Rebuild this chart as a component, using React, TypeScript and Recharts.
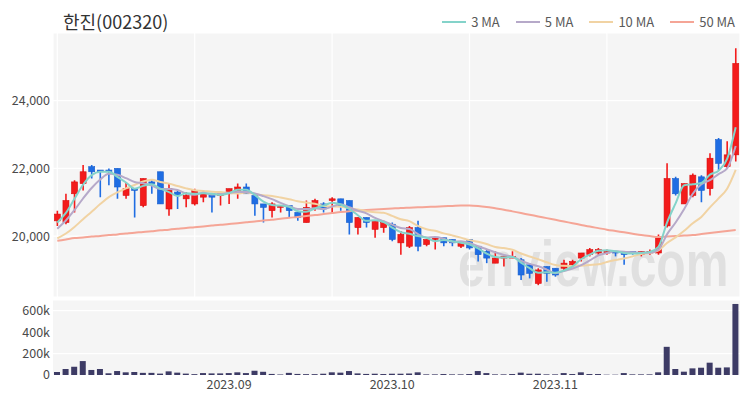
import React from 'react';
import { ComposedChart, Bar, Line, XAxis, YAxis, CartesianGrid } from 'recharts';

const FONT = '"Noto Sans CJK KR", "Noto Sans", sans-serif';

const dates = [
  '2023-08-03','2023-08-04','2023-08-07','2023-08-08','2023-08-09','2023-08-10','2023-08-11','2023-08-14','2023-08-16','2023-08-17',
  '2023-08-18','2023-08-21','2023-08-22','2023-08-23','2023-08-24','2023-08-25','2023-08-28','2023-08-29','2023-08-30','2023-08-31',
  '2023-09-01','2023-09-04','2023-09-05','2023-09-06','2023-09-07','2023-09-08','2023-09-11','2023-09-12','2023-09-13','2023-09-14',
  '2023-09-15','2023-09-18','2023-09-19','2023-09-20','2023-09-21','2023-09-22','2023-09-25','2023-09-26','2023-09-27','2023-10-04',
  '2023-10-05','2023-10-06','2023-10-10','2023-10-11','2023-10-12','2023-10-13','2023-10-16','2023-10-17','2023-10-18','2023-10-19',
  '2023-10-20','2023-10-23','2023-10-24','2023-10-25','2023-10-26','2023-10-27','2023-10-30','2023-10-31','2023-11-01','2023-11-02',
  '2023-11-03','2023-11-06','2023-11-07','2023-11-08','2023-11-09','2023-11-10','2023-11-13','2023-11-14','2023-11-15','2023-11-16',
  '2023-11-17','2023-11-20','2023-11-21','2023-11-22','2023-11-23','2023-11-24','2023-11-27','2023-11-28','2023-11-29','2023-11-30',
];

const opens = [
  20450, 20400, 21250, 21550, 22050, 21950, 21950, 22000, 21200, 21400,
  20900, 21600, 21900, 20800, 21300, 21100, 20950, 21150, 21250, 21200,
  21250, 21300, 21450, 21200, 20950, 20750, 20850, 20900, 20700, 20400,
  20850, 20950, 21050, 21100, 21050, 20250, 20550, 20200, 20250, 20350,
  19800, 19700, 20250, 19750, 19900, 19950, 19900, 19700, 19900, 19700,
  19550, 19200, 19350, 19350, 19300, 19150, 18600, 19100, 19050, 19050,
  19150, 19350, 19450, 19500, 19500, 19550, 19550, 19550, 19450, 19500,
  19500, 20300, 21700, 20950, 21200, 21750, 21400, 22850, 22050, 22400,
];

const highs = [
  20750, 21250, 21650, 22100, 22100, 21950, 22000, 22000, 21600, 21400,
  21700, 21650, 21900, 21550, 21350, 21300, 21400, 21350, 21250, 21250,
  21400, 21550, 21550, 21200, 20950, 21000, 20900, 20900, 20750, 21050,
  21100, 21000, 21150, 21100, 21050, 20550, 20550, 20450, 20450, 20400,
  20150, 20300, 20450, 19900, 20000, 19950, 19900, 19850, 19900, 19700,
  19600, 19550, 19400, 19550, 19350, 19200, 19050, 19100, 19050, 19300,
  19300, 19500, 19650, 19650, 19600, 19550, 19550, 19550, 19550, 19600,
  20050, 22150, 21750, 21550, 21850, 21800, 22450, 22900, 22800, 25550,
];

const lows = [
  20300, 20350, 20700, 21350, 21700, 21150, 21500, 21100, 21100, 20550,
  20850, 21250, 20950, 20600, 20800, 20850, 20900, 21000, 20700, 20900,
  20950, 21100, 21250, 20600, 20400, 20550, 20700, 20550, 20450, 20400,
  20750, 20700, 20650, 20750, 20050, 20050, 20250, 19950, 20100, 19850,
  19450, 19650, 19550, 19700, 19600, 19700, 19700, 19650, 19600, 19250,
  19200, 19200, 19100, 19350, 18700, 18750, 18550, 18650, 18800, 18950,
  19100, 19250, 19400, 19450, 19450, 19400, 19150, 19450, 19400, 19450,
  19450, 20250, 21200, 20950, 21150, 21000, 21200, 21950, 22000, 22200,
];

const closes = [
  20650, 21050, 21600, 21900, 21900, 21900, 21900, 21450, 21400, 21350,
  21700, 21550, 20950, 21400, 21200, 21200, 21350, 21250, 21150, 21250,
  21400, 21450, 21250, 20950, 20850, 20950, 20900, 20750, 20550, 20850,
  21050, 20800, 21100, 20900, 20400, 20550, 20400, 20450, 20400, 19900,
  20050, 20250, 19700, 19900, 19950, 19800, 19800, 19800, 19650, 19450,
  19350, 19350, 19400, 19400, 18850, 18900, 19000, 18900, 18850, 19200,
  19250, 19500, 19600, 19600, 19550, 19500, 19450, 19500, 19550, 19550,
  19950, 21700, 21250, 21550, 21800, 21350, 22300, 22150, 22400, 25100,
];

// closes of the trading days just before the first candle (feed the short moving averages)
const priorCloses = [19600, 19650, 19600, 19700, 19650, 19850, 20050, 20200, 20350];

const volumes = [
  28000, 56000, 77000, 130000, 47000, 56000, 16000, 37000, 25000, 28000,
  20000, 20000, 13000, 34000, 22000, 13000, 8000, 18000, 15000, 15000,
  18000, 25000, 18000, 40000, 30000, 10000, 5000, 20000, 10000, 8000,
  8000, 12000, 25000, 22000, 37000, 15000, 10000, 12000, 9000, 12000,
  12000, 14000, 25000, 6000, 6000, 9000, 6000, 6000, 9000, 37000,
  18000, 6000, 6000, 9000, 22000, 12000, 12000, 6000, 6000, 18000,
  9000, 25000, 9000, 9000, 3000, 3000, 18000, 6000, 6000, 6000,
  25000, 263000, 56000, 31000, 62000, 68000, 115000, 68000, 71000, 663000,
];

const ma50Values = [
  19860, 19900, 19940, 19960, 19985, 20005, 20030, 20050, 20075, 20100,
  20120, 20145, 20170, 20190, 20215, 20240, 20260, 20285, 20310, 20335,
  20355, 20380, 20405, 20430, 20460, 20485, 20510, 20540, 20565, 20595,
  20620, 20650, 20680, 20710, 20735, 20755, 20770, 20785, 20800, 20815,
  20830, 20840, 20850, 20860, 20870, 20880, 20890, 20900, 20905, 20890,
  20860, 20820, 20780, 20730, 20680, 20630, 20580, 20530, 20480, 20430,
  20380, 20330, 20280, 20235, 20190, 20150, 20110, 20070, 20030, 20000,
  19975, 19990, 20000, 20015, 20030, 20060, 20090, 20120, 20150, 20180,
];

const monthTicks = ['2023-09-01', '2023-10-04', '2023-11-01'];
const gridTicks = [dates[0], dates[16], dates[32], dates[48], dates[64]];
const priceTicks = [20000, 22000, 24000];
const priceDomain = [18200, 26000];
const volumeTicks = [0, 200000, 400000, 600000];
const volumeDomain = [0, 700000];

const title = '한진(002320)';
const legendItems = [
  { label: '3 MA', color: '#84d3ca' },
  { label: '5 MA', color: '#b6a9c9' },
  { label: '10 MA', color: '#f1d3a3' },
  { label: '50 MA', color: '#f5a596' },
];

const allCloses = [...priorCloses, ...closes];
const movingAverage = (n: number, i: number) => {
  const end = i + priorCloses.length;
  const slice = allCloses.slice(Math.max(0, end - n + 1), end + 1);
  return slice.reduce((a, b) => a + b, 0) / slice.length;
};

const data = dates.map((d, i) => ({
  date: d,
  open: opens[i],
  high: highs[i],
  low: lows[i],
  close: closes[i],
  range: [lows[i], highs[i]],
  vol: volumes[i],
  ma3: movingAverage(3, i),
  ma5: movingAverage(5, i),
  ma10: movingAverage(10, i),
  ma50: ma50Values[i],
}));

const Candle = (props: any) => {
  const { x, y, width, height, payload } = props;
  if (!payload || x == null) return null;
  const { open, close, high, low } = payload;
  const top = Math.min(y, y + height);
  const h = Math.abs(height);
  const cx = x + width / 2;
  const ratio = high - low > 0 ? h / (high - low) : 0;
  const yOf = (v: number) => top + (high - v) * ratio;
  const up = close >= open;
  const fill = up ? '#f31b1b' : '#1f6de3';
  const stroke = up ? '#d90f0f' : '#1a5fcc';
  const bTop = yOf(Math.max(open, close));
  const bBot = yOf(Math.min(open, close));
  const bw = Math.min(6, width);
  return (
    <g>
      <line x1={cx} x2={cx} y1={top} y2={top + h} stroke={fill} strokeWidth={1.6} />
      <rect x={cx - bw / 2} y={bTop} width={bw} height={Math.max(1.5, bBot - bTop)} fill={fill} stroke={stroke} strokeWidth={0.6} />
    </g>
  );
};

const tickStyle = { fontSize: 12.5, fill: '#4a4a4a', fontFamily: FONT };

export default function App() {
  return (
    <div style={{ position: 'absolute', left: 0, top: 0, width: 750, height: 400, background: '#fff', overflow: 'hidden', fontFamily: FONT }}>
      <div style={{ position: 'absolute', left: 53, top: 33, width: 687, height: 264, background: '#f5f5f5' }} />
      <div style={{ position: 'absolute', left: 53, top: 300, width: 687, height: 75, background: '#f5f5f5' }} />
      <div
        style={{
          position: 'absolute', left: 458, top: 232, fontSize: 48, fontWeight: 700,
          fontFamily: '"Liberation Sans", Arial, sans-serif', color: '#e0e0e0',
          transform: 'scaleY(1.35)', transformOrigin: 'left top', lineHeight: '48px', whiteSpace: 'nowrap',
        }}
      >
        enview.com
      </div>
      <div style={{ position: 'absolute', left: 63, top: 8, fontSize: 18, color: '#333', lineHeight: '26px' }}>{title}</div>
      <div style={{ position: 'absolute', right: 15, top: 13, display: 'flex', alignItems: 'center', fontSize: 13, color: '#5a5a5a', lineHeight: '18px' }}>
        {legendItems.map((it, idx) => (
          <div key={it.label} style={{ display: 'flex', alignItems: 'center', marginLeft: idx === 0 ? 0 : 16 }}>
            <div style={{ width: 24, height: 2, background: it.color, marginRight: 5 }} />
            <span>{it.label}</span>
          </div>
        ))}
      </div>
      <div style={{ position: 'absolute', left: 0, top: 0 }}>
        <ComposedChart width={750} height={300} data={data} margin={{ top: 33, right: 10, left: 0, bottom: 3 }}>
          <CartesianGrid stroke="#ffffff" strokeWidth={1.2} fill="none" />
          <XAxis dataKey="date" hide ticks={gridTicks} />
          <YAxis
            domain={priceDomain}
            ticks={priceTicks}
            width={53}
            tickLine={false}
            axisLine={false}
            tickSize={0}
            tickMargin={3}
            tick={tickStyle}
            tickFormatter={(v: number) => v.toLocaleString('en-US')}
            allowDataOverflow
          />
          <Bar dataKey="range" shape={<Candle />} isAnimationActive={false} legendType="none" />
          <Line dataKey="ma50" type="monotone" stroke="#f5a596" strokeWidth={2} dot={false} isAnimationActive={false} />
          <Line dataKey="ma10" type="monotone" stroke="#f1d3a3" strokeWidth={2} dot={false} isAnimationActive={false} />
          <Line dataKey="ma5" type="monotone" stroke="#b6a9c9" strokeWidth={2} dot={false} isAnimationActive={false} />
          <Line dataKey="ma3" type="monotone" stroke="#84d3ca" strokeWidth={2} dot={false} isAnimationActive={false} />
        </ComposedChart>
      </div>
      <div style={{ position: 'absolute', left: 0, top: 300 }}>
        <ComposedChart width={750} height={100} data={data} margin={{ top: 0, right: 10, left: 0, bottom: 0 }}>
          <CartesianGrid stroke="#ffffff" strokeWidth={1.2} vertical={false} fill="none" />
          <XAxis
            dataKey="date"
            ticks={monthTicks}
            interval={0}
            height={25}
            tickLine={false}
            axisLine={false}
            tickSize={0}
            tickMargin={5}
            tick={tickStyle}
            tickFormatter={(d: string) => d.slice(0, 7).replace('-', '.')}
          />
          <YAxis
            domain={volumeDomain}
            ticks={volumeTicks}
            width={53}
            tickLine={false}
            axisLine={false}
            tickSize={0}
            tickMargin={3}
            tick={tickStyle}
            tickFormatter={(v: number) => (v === 0 ? '0' : `${v / 1000}k`)}
          />
          <Bar dataKey="vol" fill="#3d3b65" barSize={6} isAnimationActive={false} />
        </ComposedChart>
      </div>
    </div>
  );
}
